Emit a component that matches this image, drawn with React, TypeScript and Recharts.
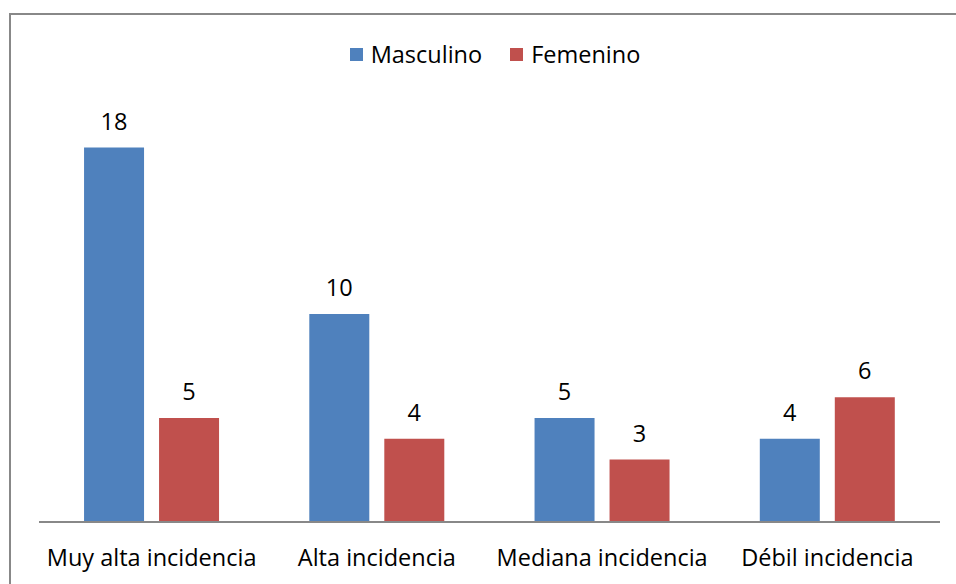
import { BarChart, Bar, XAxis, YAxis, LabelList } from 'recharts';

const categories = ['Muy alta incidencia', 'Alta incidencia', 'Mediana incidencia', 'Débil incidencia'];
const masculino = [18, 10, 5, 4];
const femenino = [5, 4, 3, 6];
const seriesNames = ['Masculino', 'Femenino'];
const seriesColors = ['#4F81BD', '#C0504D'];

const data = categories.map((name, i) => ({ name, Masculino: masculino[i], Femenino: femenino[i] }));

const FONT = '"Open Sans", sans-serif';
const FS = 23.5;

function Tick({ x, y, payload }: any) {
  return (
    <text x={x} y={y + 35} textAnchor="middle" dominantBaseline="central" fontFamily={FONT} fontSize={FS} fill="#000">
      {payload.value}
    </text>
  );
}

export default function App() {
  return (
    <div style={{ position: 'absolute', left: 0, top: 0, width: 956, height: 584, background: '#fff', overflow: 'hidden' }}>
      <div style={{ position: 'absolute', left: 9, top: 13, width: 1000, height: 1000, borderTop: '2px solid #888', borderLeft: '2px solid #888' }} />
      <div
        style={{
          position: 'absolute', top: 38, left: 0, width: 990, display: 'flex', justifyContent: 'center',
          gap: 28, fontFamily: FONT, fontSize: FS, color: '#000', lineHeight: '32px',
        }}
      >
        {seriesNames.map((s, i) => (
          <div key={s} style={{ display: 'flex', alignItems: 'center' }}>
            <span style={{ width: 13, height: 13, background: seriesColors[i], display: 'inline-block', marginRight: 8 }} />
            <span>{s}</span>
          </div>
        ))}
      </div>
      <BarChart
        width={956}
        height={584}
        data={data}
        margin={{ top: 106, right: 16, bottom: 0, left: 39 }}
        barCategoryGap="20%"
        barGap={15}
      >
        <XAxis
          dataKey="name"
          height={62}
          tickLine={false}
          tickSize={0}
          tickMargin={0}
          axisLine={{ stroke: '#888', strokeWidth: 2 }}
          tick={<Tick />}
          interval={0}
        />
        <YAxis hide domain={[0, 20]} />
        {seriesNames.map((s, i) => (
          <Bar key={s} dataKey={s} fill={seriesColors[i]} isAnimationActive={false}>
            <LabelList dataKey={s} position="top" offset={18} fontFamily={FONT} fontSize={FS} fill="#000" />
          </Bar>
        ))}
      </BarChart>
    </div>
  );
}
